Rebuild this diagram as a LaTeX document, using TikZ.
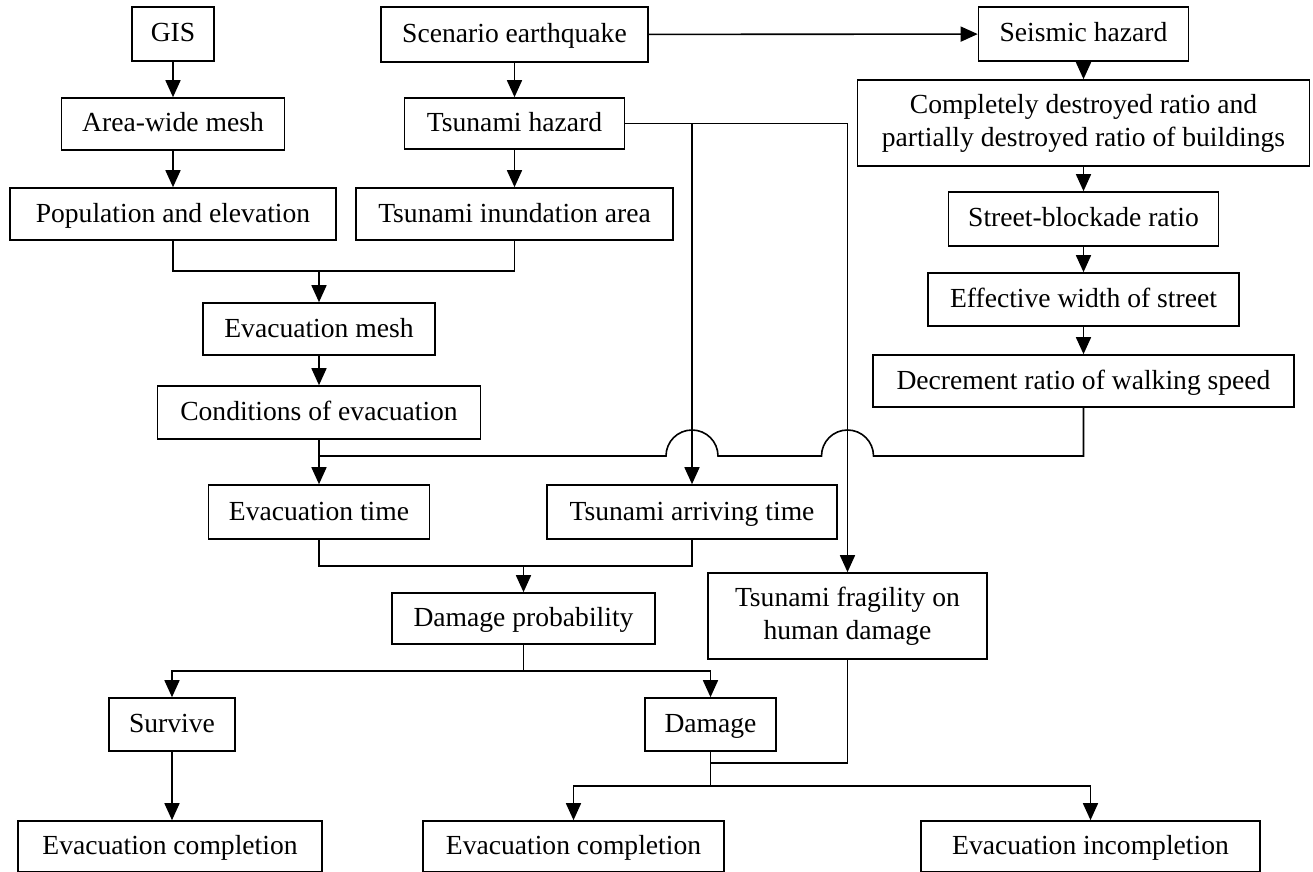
\documentclass[tikz,border=0pt]{standalone}
\usepackage{fontspec}
\setmainfont{Liberation Serif}
\usetikzlibrary{arrows.meta}

\begin{document}
\begin{tikzpicture}[x=0.5pt,y=-0.5pt,
  box/.style={draw,line width=0.8pt,inner sep=0pt,align=center,
    font=\fontsize{13.8}{16.5}\selectfont,text height=9.5pt,text depth=1.5pt},
  box2/.style={draw,line width=0.8pt,inner sep=0pt,align=center,
    font=\fontsize{13.8}{16.5}\selectfont},
  arr/.style={-{Triangle[width=7.5pt,length=8.5pt]}},
  line width=0.8pt]
\useasboundingbox (0,0) rectangle (1313,872);

% BOXES
\node[box,minimum width=41pt,minimum height=27pt]     (gis)     at (173,34)      {GIS};
\node[box,minimum width=133.5pt,minimum height=27.5pt] (scen)   at (514.5,34.5)  {Scenario earthquake};
\node[box,minimum width=105pt,minimum height=27pt]    (seis)    at (1083.5,34)   {Seismic hazard};
\node[box,minimum width=111.5pt,minimum height=26pt]  (area)    at (173,124)     {Area-wide mesh};
\node[box,minimum width=110pt,minimum height=25.5pt]  (tshaz)   at (514.5,123.5) {Tsunami hazard};
\node[box2,minimum width=226pt,minimum height=43pt]   (bldg)    at (1083.5,123)  {Completely destroyed ratio and\\partially destroyed ratio of buildings};
\node[box,minimum width=163pt,minimum height=26pt]    (pop)     at (173,214)     {Population and elevation};
\node[box,minimum width=158.5pt,minimum height=26pt]  (inund)   at (514.5,214)   {Tsunami inundation area};
\node[box,minimum width=135pt,minimum height=27pt]    (block)   at (1083.5,219)  {Street-blockade ratio};
\node[box,minimum width=116pt,minimum height=26pt]    (evmesh)  at (319,329)     {Evacuation mesh};
\node[box,minimum width=155.5pt,minimum height=26.5pt] (ewidth) at (1083.5,299.5) {Effective width of street};
\node[box,minimum width=161.5pt,minimum height=26.5pt] (cond)   at (319,412.5)   {Conditions of evacuation};
\node[box,minimum width=210.5pt,minimum height=26pt]  (decr)    at (1083.5,381)  {Decrement ratio of walking speed};
\node[box,minimum width=110.5pt,minimum height=27pt]  (evtime)  at (319,512)     {Evacuation time};
\node[box,minimum width=145pt,minimum height=27pt]    (arrive)  at (692,512)     {Tsunami arriving time};
\node[box,minimum width=131.5pt,minimum height=25.5pt] (dprob)  at (523.5,618.5) {Damage probability};
\node[box2,minimum width=139.5pt,minimum height=43pt] (frag)    at (847.5,616)   {Tsunami fragility on\\human damage};
\node[box,minimum width=63pt,minimum height=26.5pt]   (surv)    at (172,724.5)   {Survive};
\node[box,minimum width=65.5pt,minimum height=26.5pt] (dmg)     at (710.5,724.5) {Damage};
\node[box,minimum width=152pt,minimum height=25.5pt]  (compl1)  at (170,846.5)   {Evacuation completion};
\node[box,minimum width=150.5pt,minimum height=25.5pt] (compl2) at (573.5,846.5) {Evacuation completion};
\node[box,minimum width=169.5pt,minimum height=25.5pt] (incompl) at (1090.5,846.5) {Evacuation incompletion};

% JOINTS
\coordinate (j1) at (319,271);
\coordinate (bus) at (319,456);
\coordinate (j2) at (523.5,566);
\coordinate (j3) at (523.5,671);
\coordinate (j4) at (710.5,763);
\coordinate (j5) at (710.5,786);

% ARROWS
\draw[arr] (gis) -- (area);
\draw[arr] (area) -- (pop);
\draw[arr] (scen) -- (tshaz);
\draw[arr] (tshaz) -- (inund);
\draw[arr] (scen) -- (seis);
\draw[arr] (seis) -- (bldg);
\draw[arr] (bldg) -- (block);
\draw[arr] (block) -- (ewidth);
\draw[arr] (ewidth) -- (decr);

\draw (pop.south) |- (j1) -| (inund.south);
\draw[arr] (j1) -- (evmesh);
\draw[arr] (evmesh) -- (cond);
\draw[arr] (cond) -- (evtime);

\draw[arr] (tshaz.east) -| (frag.north);
\draw[arr] (tshaz.east -| arrive.north) -- (arrive.north);

% JUMPS over the two hazard lines
\draw (decr.south) |- (873.5,456)
  arc[start angle=0,end angle=180,radius=13pt] -- (718,456)
  arc[start angle=0,end angle=180,radius=13pt] -- (bus);

\draw (evtime.south) |- (j2) -| (arrive.south);
\draw[arr] (j2) -- (dprob);
\draw (dprob.south) -- (j3);
\draw[arr] (j3) -| (surv.north);
\draw[arr] (j3) -| (dmg.north);

\draw[arr] (surv) -- (compl1.north -| surv.south);
\draw (dmg.south) -- (j5);
\draw (frag.south) |- (j4);
\draw[arr] (j5) -| (compl2.north);
\draw[arr] (j5) -| (incompl.north);

\end{tikzpicture}
\end{document}
